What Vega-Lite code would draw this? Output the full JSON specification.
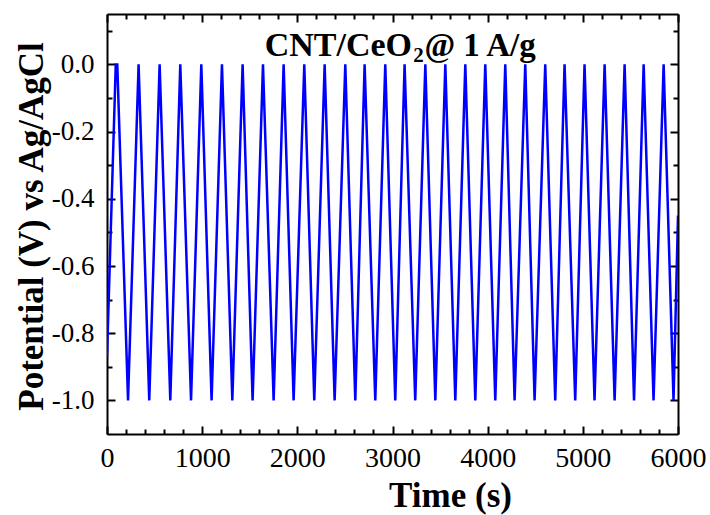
{
  "$schema": "https://vega.github.io/schema/vega-lite/v6.json",
  "width": 571,
  "height": 420,
  "autosize": {"type": "none"},
  "padding": {"left": 107, "top": 14, "right": 32, "bottom": 81},
  "background": "white",
  "config": {
    "view": {"stroke": null},
    "axis": {
      "domainColor": "black",
      "domainWidth": 2,
      "tickColor": "black",
      "tickWidth": 2,
      "grid": false,
      "labelFont": "Liberation Serif",
      "labelColor": "black",
      "titleFont": "Liberation Serif",
      "titleFontWeight": "bold",
      "titleFontSize": 35,
      "titleColor": "black"
    }
  },
  "datasets": {
    "gcd": [
      {"t": 0, "v": -0.87}, {"t": 92, "v": 0}, {"t": 108, "v": 0},
      {"t": 221, "v": -1}, {"t": 332, "v": 0}, {"t": 444, "v": -1}, {"t": 553, "v": 0},
      {"t": 665, "v": -1}, {"t": 770, "v": 0}, {"t": 883, "v": -1}, {"t": 991, "v": 0},
      {"t": 1099, "v": -1}, {"t": 1208, "v": 0}, {"t": 1317, "v": -1}, {"t": 1425, "v": 0},
      {"t": 1530, "v": -1}, {"t": 1639, "v": 0}, {"t": 1751, "v": -1}, {"t": 1856, "v": 0},
      {"t": 1961, "v": -1}, {"t": 2073, "v": 0}, {"t": 2178, "v": -1}, {"t": 2287, "v": 0},
      {"t": 2392, "v": -1}, {"t": 2504, "v": 0}, {"t": 2609, "v": -1}, {"t": 2707, "v": 0},
      {"t": 2819, "v": -1}, {"t": 2924, "v": 0}, {"t": 3029, "v": -1}, {"t": 3127, "v": 0},
      {"t": 3239, "v": -1}, {"t": 3345, "v": 0}, {"t": 3450, "v": -1}, {"t": 3555, "v": 0},
      {"t": 3660, "v": -1}, {"t": 3765, "v": 0}, {"t": 3870, "v": -1}, {"t": 3975, "v": 0},
      {"t": 4080, "v": -1}, {"t": 4185, "v": 0}, {"t": 4283, "v": -1}, {"t": 4395, "v": 0},
      {"t": 4493, "v": -1}, {"t": 4605, "v": 0}, {"t": 4710, "v": -1}, {"t": 4808, "v": 0},
      {"t": 4920, "v": -1}, {"t": 5018, "v": 0}, {"t": 5123, "v": -1}, {"t": 5229, "v": 0},
      {"t": 5334, "v": -1}, {"t": 5439, "v": 0}, {"t": 5538, "v": -1}, {"t": 5639, "v": 0},
      {"t": 5743, "v": -1}, {"t": 5849, "v": 0}, {"t": 5953, "v": -1}, {"t": 6000, "v": -0.45}
    ]
  },
  "data": {"name": "gcd"},
  "layer": [
    {
      "mark": {"type": "line", "color": "#0000FF", "strokeWidth": 2.5, "clip": true},
      "encoding": {
        "x": {
          "field": "t", "type": "quantitative",
          "scale": {"domain": [0, 6000], "nice": false, "zero": false},
          "axis": {
            "orient": "bottom",
            "title": "Time (s)",
            "titleX": 343, "titleY": 72, "titleBaseline": "alphabetic", "titleAnchor": null,
            "values": [0, 1000, 2000, 3000, 4000, 5000, 6000],
            "ticks": false, "tickSize": 0,
            "format": "d",
            "labelFontSize": 28,
            "labelPadding": 10,
            "labelFlush": false,
            "labelOverlap": false
          }
        },
        "y": {
          "field": "v", "type": "quantitative",
          "scale": {"domain": [-1.1, 0.15], "nice": false, "zero": false},
          "axis": {
            "orient": "left",
            "title": "Potential (V) vs Ag/AgCl",
            "titleX": -65, "titleY": 212, "titleBaseline": "alphabetic", "titleAngle": -90, "titleAnchor": null, "titleAlign": "center",
            "values": [-1.0, -0.8, -0.6, -0.4, -0.2, 0.0],
            "ticks": false, "tickSize": 0,
            "labelExpr": "(datum.value < -0.001 ? '-' : '') + format(abs(datum.value), '.1f')",
            "labelFontSize": 27,
            "labelPadding": 13,
            "labelFlush": false,
            "labelOverlap": false
          }
        }
      }
    },
    {
      "mark": {"type": "line", "opacity": 0},
      "encoding": {
        "x": {"field": "t", "type": "quantitative",
          "axis": {"orient": "top", "title": null, "labels": false, "ticks": false, "values": [0]}},
        "y": {"field": "v", "type": "quantitative",
          "axis": {"orient": "right", "title": null, "labels": false, "ticks": false, "values": [0]}}
      }
    },
    {
      "mark": {"type": "line", "opacity": 0},
      "encoding": {
        "x": {"field": "t", "type": "quantitative",
          "axis": {"orient": "bottom", "title": null, "labels": false, "domain": false, "offset": -8, "tickSize": 8,
            "values": [0, 1000, 2000, 3000, 4000, 5000, 6000]}},
        "y": {"field": "v", "type": "quantitative",
          "axis": {"orient": "left", "title": null, "labels": false, "domain": false, "offset": -8, "tickSize": 8,
            "values": [-1.0, -0.8, -0.6, -0.4, -0.2, 0.0]}}
      }
    },
    {
      "mark": {"type": "line", "opacity": 0},
      "encoding": {
        "x": {"field": "t", "type": "quantitative",
          "axis": {"orient": "top", "title": null, "labels": false, "domain": false, "offset": -8, "tickSize": 8,
            "values": [0, 1000, 2000, 3000, 4000, 5000, 6000]}},
        "y": {"field": "v", "type": "quantitative",
          "axis": {"orient": "right", "title": null, "labels": false, "domain": false, "offset": -8, "tickSize": 8,
            "values": [-1.0, -0.8, -0.6, -0.4, -0.2, 0.0]}}
      }
    },
    {
      "mark": {"type": "line", "opacity": 0},
      "encoding": {
        "x": {"field": "t", "type": "quantitative",
          "axis": {"orient": "bottom", "title": null, "labels": false, "domain": false, "offset": -5, "tickSize": 5,
            "values": [200,400,600,800,1200,1400,1600,1800,2200,2400,2600,2800,3200,3400,3600,3800,4200,4400,4600,4800,5200,5400,5600,5800]}},
        "y": {"field": "v", "type": "quantitative",
          "axis": {"orient": "left", "title": null, "labels": false, "domain": false, "offset": -5, "tickSize": 5,
            "values": [-0.9, -0.7, -0.5, -0.3, -0.1, 0.1]}}
      }
    },
    {
      "mark": {"type": "line", "opacity": 0},
      "encoding": {
        "x": {"field": "t", "type": "quantitative",
          "axis": {"orient": "top", "title": null, "labels": false, "domain": false, "offset": -5, "tickSize": 5,
            "values": [200,400,600,800,1200,1400,1600,1800,2200,2400,2600,2800,3200,3400,3600,3800,4200,4400,4600,4800,5200,5400,5600,5800]}},
        "y": {"field": "v", "type": "quantitative",
          "axis": {"orient": "right", "title": null, "labels": false, "domain": false, "offset": -5, "tickSize": 5,
            "values": [-0.9, -0.7, -0.5, -0.3, -0.1, 0.1]}}
      }
    },
    {
      "data": {"values": [{}]},
      "mark": {"type": "text", "text": "CNT/CeO", "font": "Liberation Serif", "fontWeight": "bold", "fontSize": 34, "align": "right", "baseline": "alphabetic", "color": "black"},
      "encoding": {
        "x": {"datum": 3205, "type": "quantitative", "axis": null},
        "y": {"datum": 0.025, "type": "quantitative", "axis": null}
      }
    },
    {
      "data": {"values": [{}]},
      "mark": {"type": "text", "text": "2", "font": "Liberation Serif", "fontWeight": "bold", "fontSize": 21, "align": "left", "baseline": "alphabetic", "color": "black"},
      "encoding": {
        "x": {"datum": 3218, "type": "quantitative", "axis": null},
        "y": {"datum": 0.006, "type": "quantitative", "axis": null}
      }
    },
    {
      "data": {"values": [{}]},
      "mark": {"type": "text", "text": "@ 1 A/g", "font": "Liberation Serif", "fontWeight": "bold", "fontSize": 33, "align": "left", "baseline": "alphabetic", "color": "black"},
      "encoding": {
        "x": {"datum": 3335, "type": "quantitative", "axis": null},
        "y": {"datum": 0.025, "type": "quantitative", "axis": null}
      }
    }
  ],
  "resolve": {"axis": {"x": "independent", "y": "independent"}}
}
